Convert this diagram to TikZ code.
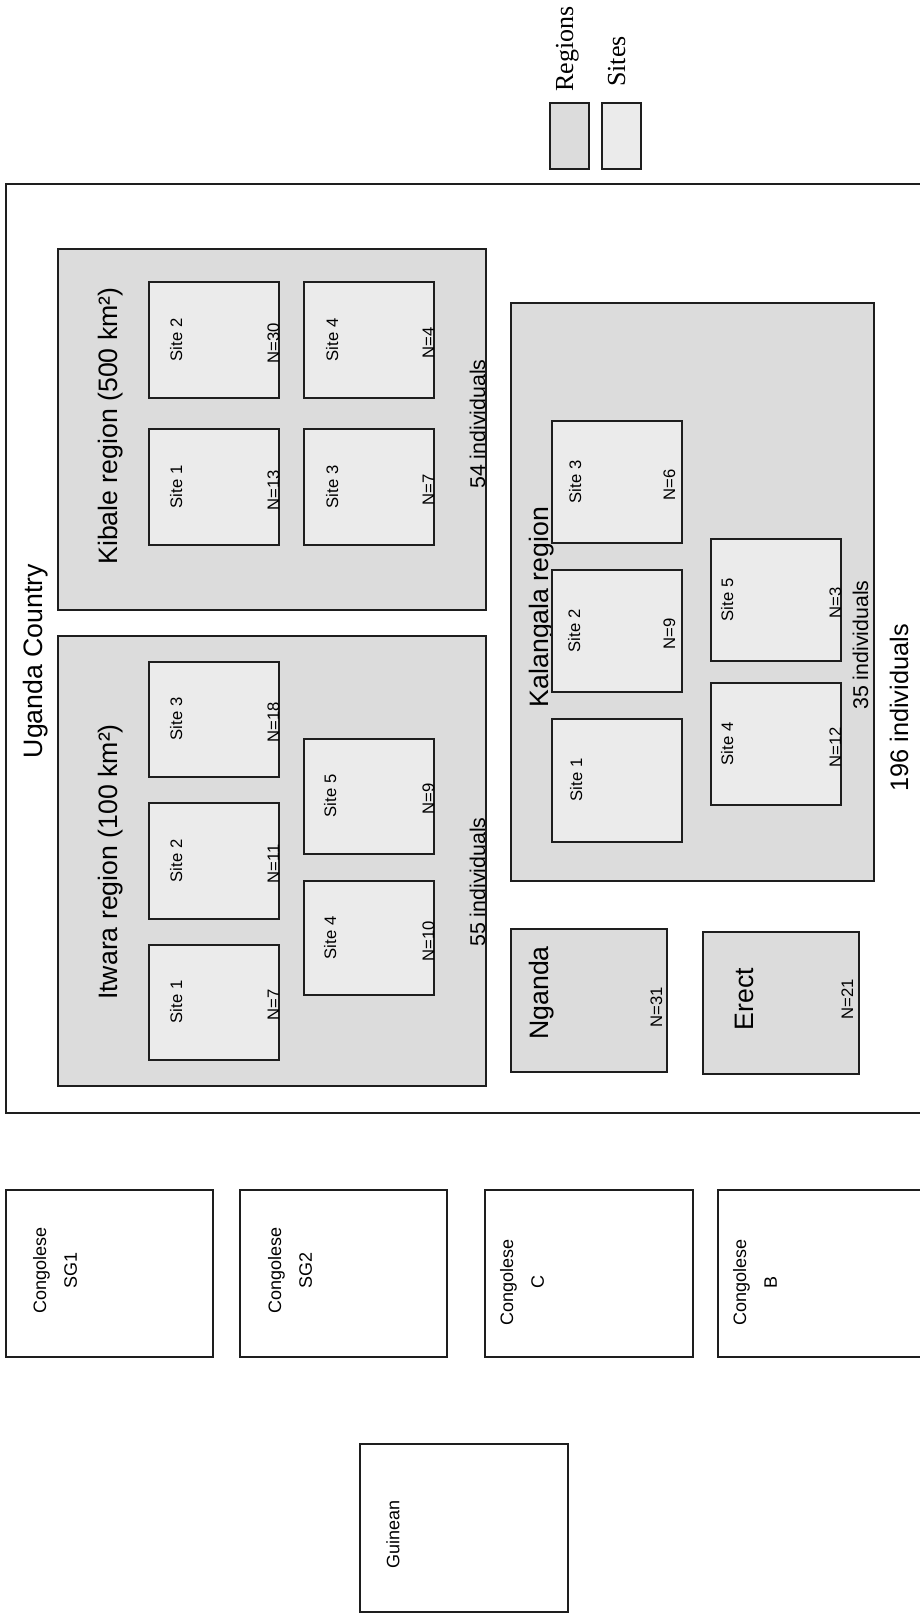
\documentclass[tikz,border=0pt]{standalone}
\usepackage{fontspec}
\setmainfont{Liberation Sans}
\newfontfamily\legendfont{Liberation Serif}
\definecolor{regiongray}{RGB}{220,220,220}
\definecolor{sitegray}{RGB}{235,235,235}
\definecolor{edgegray}{RGB}{30,30,30}
\begin{document}
\begin{tikzpicture}[x=0.75pt, y=-0.75pt,
    regionbox/.style={draw=edgegray, fill=regiongray, line width=0.9pt},
    sitebox/.style={draw=edgegray, fill=sitegray, line width=0.9pt},
    groupbox/.style={draw=edgegray, line width=0.9pt},
    vtext/.style={rotate=90, inner sep=0pt, anchor=base},
    titletext/.style={vtext, font=\fontsize{20}{24}\selectfont},
    sitetext/.style={vtext, font=\fontsize{12.5}{15}\selectfont},
    counttext/.style={vtext, font=\fontsize{16}{19}\selectfont},
    grouptext/.style={rotate=90, inner sep=0pt, align=center, font=\fontsize{13.5}{23}\selectfont},
    legendtext/.style={rotate=90, inner sep=0pt, anchor=base west, font=\legendfont\fontsize{19.5}{23}\selectfont}]

    \useasboundingbox (0,0) rectangle (920,1619);
    \clip (0,0) rectangle (920,1619);
    \fill[white] (0,0) rectangle (920,1619);

    % Legend
    \draw[regionbox] (550,103) rectangle (589,169);
    \draw[sitebox] (602,103) rectangle (641,169);
    \node[legendtext] (LegRegions) at (573,92) {Regions};
    \node[legendtext] (LegSites) at (625,87) {Sites};

    % Country frame
    \draw[groupbox, line width=1.2pt] (6,184) rectangle (960,1113);
    \node[titletext] (Uganda) at (42,661) {Uganda Country};
    \node[vtext, font=\fontsize{19}{23}\selectfont] (Total) at (908,708) {196 individuals};

    % Kibale region
    \draw[regionbox] (58,249) rectangle (486,610);
    \node[titletext] (KibTitle) at (117,426) {Kibale region (500 km²)};
    \node[counttext] (KibCount) at (485,424) {54 individuals};
    \draw[sitebox] (149,282) rectangle (279,398);
    \node[sitetext] (KibS2) at (182,340) {Site 2};
    \node[sitetext] (KibN2) at (279,343) {N=30};
    \draw[sitebox] (304,282) rectangle (434,398);
    \node[sitetext] (KibS4) at (338,340) {Site 4};
    \node[sitetext] (KibN4) at (434,343) {N=4};
    \draw[sitebox] (149,429) rectangle (279,545);
    \node[sitetext] (KibS1) at (182,487) {Site 1};
    \node[sitetext] (KibN1) at (279,490) {N=13};
    \draw[sitebox] (304,429) rectangle (434,545);
    \node[sitetext] (KibS3) at (338,487) {Site 3};
    \node[sitetext] (KibN3) at (434,490) {N=7};

    % Itwara region
    \draw[regionbox] (58,636) rectangle (486,1086);
    \node[titletext] (ItwTitle) at (117,862) {Itwara region (100 km²)};
    \node[counttext] (ItwCount) at (485,882) {55 individuals};
    \draw[sitebox] (149,662) rectangle (279,777);
    \node[sitetext] (ItwS3) at (182,719) {Site 3};
    \node[sitetext] (ItwN3) at (279,722) {N=18};
    \draw[sitebox] (149,803) rectangle (279,919);
    \node[sitetext] (ItwS2) at (182,861) {Site 2};
    \node[sitetext] (ItwN2) at (279,864) {N=11};
    \draw[sitebox] (149,945) rectangle (279,1060);
    \node[sitetext] (ItwS1) at (182,1002) {Site 1};
    \node[sitetext] (ItwN1) at (279,1005) {N=7};
    \draw[sitebox] (304,739) rectangle (434,854);
    \node[sitetext] (ItwS5) at (336,796) {Site 5};
    \node[sitetext] (ItwN5) at (434,799) {N=9};
    \draw[sitebox] (304,881) rectangle (434,995);
    \node[sitetext] (ItwS4) at (336,938) {Site 4};
    \node[sitetext] (ItwN4) at (434,941) {N=10};

    % Kalangala region
    \draw[regionbox] (511,303) rectangle (874,881);
    \node[titletext] (KalTitle) at (548,607) {Kalangala region};
    \node[counttext] (KalCount) at (868,645) {35 individuals};
    \draw[sitebox] (552,421) rectangle (682,543);
    \node[sitetext] (KalS3) at (581,482) {Site 3};
    \node[sitetext] (KalN3) at (675,485) {N=6};
    \draw[sitebox] (552,570) rectangle (682,692);
    \node[sitetext] (KalS2) at (580,631) {Site 2};
    \node[sitetext] (KalN2) at (675,634) {N=9};
    \draw[sitebox] (552,719) rectangle (682,842);
    \node[sitetext] (KalS1) at (582,780) {Site 1};
    \draw[sitebox] (711,539) rectangle (841,661);
    \node[sitetext] (KalS5) at (733,600) {Site 5};
    \node[sitetext] (KalN5) at (841,603) {N=3};
    \draw[sitebox] (711,683) rectangle (841,805);
    \node[sitetext] (KalS4) at (733,744) {Site 4};
    \node[sitetext] (KalN4) at (841,747) {N=12};

    % Single-site groups
    \draw[regionbox] (511,929) rectangle (667,1072);
    \node[titletext] (Nganda) at (548,993) {Nganda};
    \node[sitetext] (NgandaN) at (662,1007) {N=31};
    \draw[regionbox] (703,932) rectangle (859,1074);
    \node[titletext] (Erect) at (753,999) {Erect};
    \node[sitetext] (ErectN) at (853,999) {N=21};

    % Outside Uganda
    \draw[groupbox] (6,1190) rectangle (213,1357);
    \node[grouptext] (CongSG1) at (55,1270) {Congolese\\SG1};
    \draw[groupbox] (240,1190) rectangle (447,1357);
    \node[grouptext] (CongSG2) at (290,1270) {Congolese\\SG2};
    \draw[groupbox] (485,1190) rectangle (693,1357);
    \node[grouptext] (CongC) at (522,1282) {Congolese\\C};
    \draw[groupbox] (718,1190) rectangle (925,1357);
    \node[grouptext] (CongB) at (755,1282) {Congolese\\B};
    \draw[groupbox] (360,1444) rectangle (568,1612);
    \node[grouptext] (Guinean) at (393,1534) {Guinean};

\end{tikzpicture}
\end{document}
